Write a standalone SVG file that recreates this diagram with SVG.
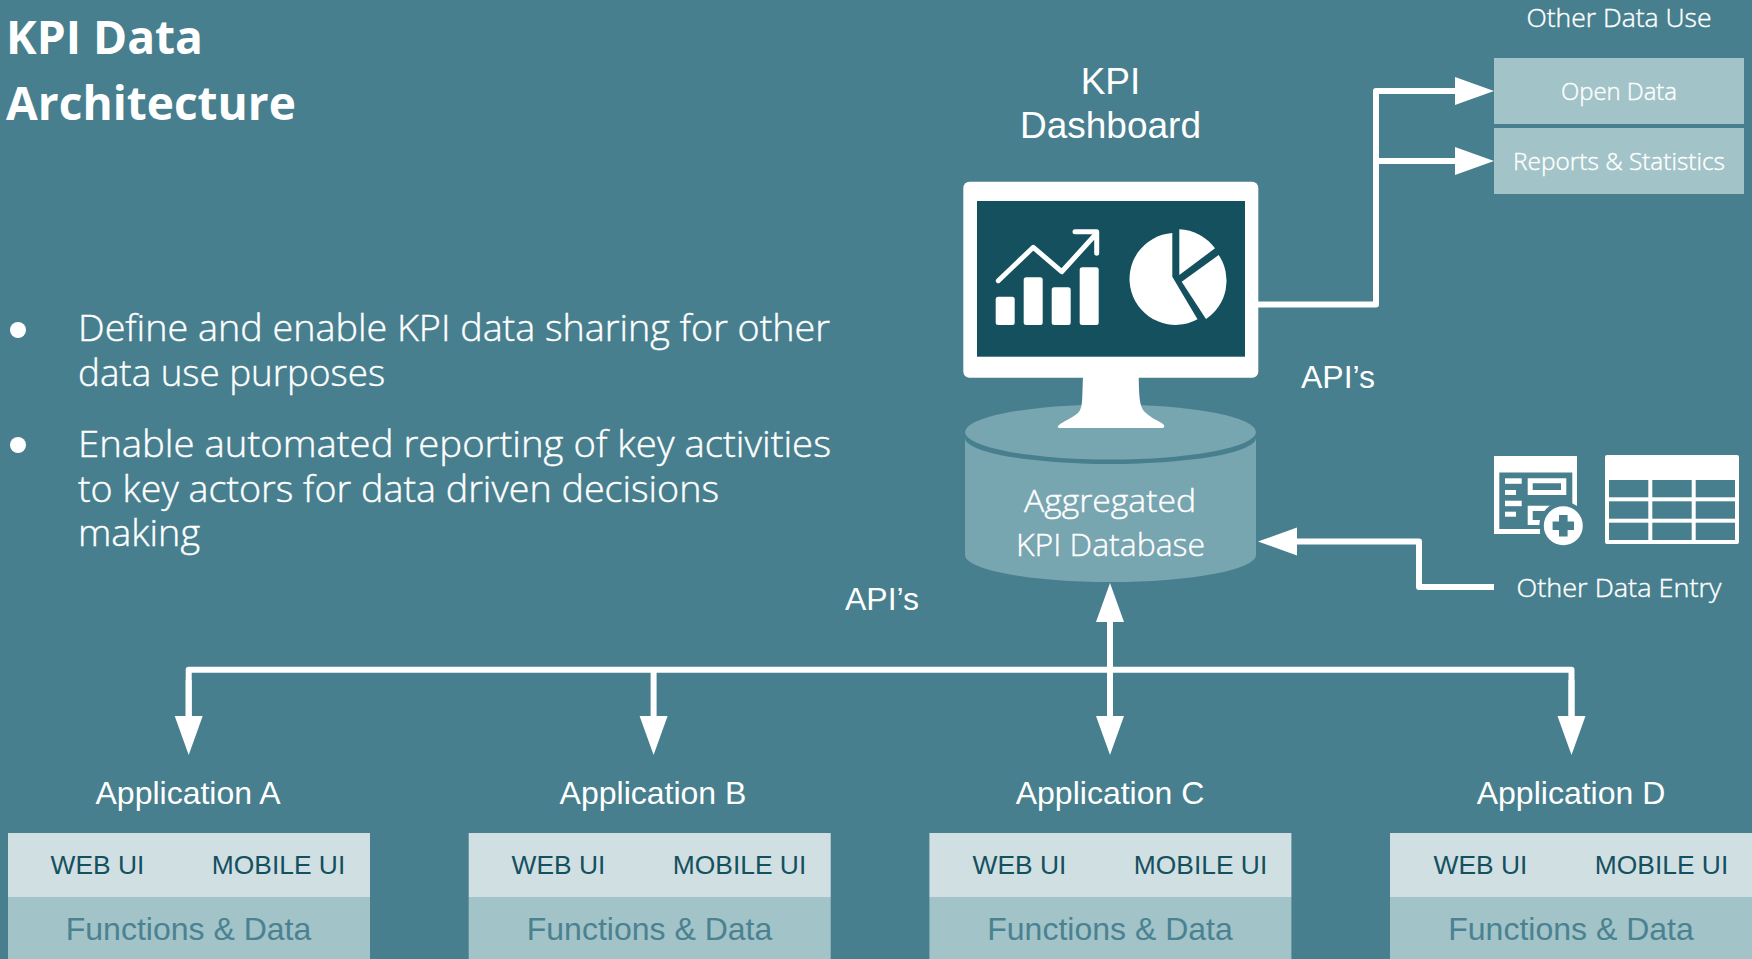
<svg xmlns="http://www.w3.org/2000/svg" width="1752" height="959" viewBox="0 0 1752 959">
<style>
.u{font-family:"Open Sans","Noto Sans","DejaVu Sans",sans-serif;fill:#fff;font-weight:400}
.l{font-weight:300;stroke:#fff;stroke-width:.4px}
.a{font-family:"Liberation Sans",Arial,sans-serif;fill:#fff;text-anchor:middle}
.conn{fill:none;stroke:#fff;stroke-width:6;stroke-linejoin:round;marker-end:url(#arrow)}
.plain{fill:none;stroke:#fff;stroke-width:6;stroke-linejoin:round}
.top{fill:#d0dfe2}.bot{fill:#a2c3c8}
.ui{font-size:26.4px}
.fd{font-size:32px}
.nm{font-size:32px}
.bg{fill:#477f8e}
</style>
<defs>
<marker id="arrow" markerUnits="userSpaceOnUse" markerWidth="40" markerHeight="30" refX="0" refY="15" orient="auto"><path d="M0 1 L39 15 L0 29Z" fill="#fff"/></marker>
<g id="app">
<rect class="top" x="0" y="833" width="362" height="64"/>
<rect class="bot" x="0" y="897" width="362" height="62"/>
</g>
</defs>
<rect width="1752" height="959" class="bg"/>
<g id="title">
<text class="u" style="font-weight:700" font-size="46" x="6" y="54" textLength="197" lengthAdjust="spacingAndGlyphs">KPI Data</text>
<text class="u" style="font-weight:700" font-size="46" x="6" y="120" textLength="290" lengthAdjust="spacingAndGlyphs">Architecture</text>
</g>
<g id="bullets">
<circle cx="18" cy="330" r="8" fill="#fff"/>
<circle cx="18" cy="445" r="8" fill="#fff"/>
<text class="u l" font-size="36" x="78" y="341" textLength="752" lengthAdjust="spacingAndGlyphs">Define and enable KPI data sharing for other</text>
<text class="u l" font-size="36" x="78" y="386" textLength="307" lengthAdjust="spacingAndGlyphs">data use purposes</text>
<text class="u l" font-size="36" x="78" y="457" textLength="753" lengthAdjust="spacingAndGlyphs">Enable automated reporting of key activities</text>
<text class="u l" font-size="36" x="78" y="502" textLength="641" lengthAdjust="spacingAndGlyphs">to key actors for data driven decisions</text>
<text class="u l" font-size="36" x="78" y="546" textLength="122" lengthAdjust="spacingAndGlyphs">making</text>
</g>
<g id="connectors">
<path class="conn" d="M1258 304.5 H1376 V91 H1455"/>
<path class="conn" d="M1376 161 H1455"/>
<path class="conn" d="M1494 587 H1419 V541.5 H1297"/>
<path class="plain" d="M188.7 716 V669.7 H1571.5 V716"/>
<path class="conn" d="M188.7 680 V716"/>
<path class="conn" d="M653.6 669.7 V716"/>
<path class="conn" d="M1110 669.7 V716"/>
<path class="conn" d="M1571.5 680 V716"/>
<path class="conn" d="M1110 669.7 V622"/>
</g>
<g id="database">
<path d="M965 438 A145.5 26 0 0 0 1256 438 V555 A145.5 27 0 0 1 965 555Z" fill="#77a5b0"/>
<ellipse cx="1110.5" cy="432" rx="145.5" ry="27.5" fill="#77a5b0"/>
<text class="u l" font-size="32" x="1024" y="512" textLength="172" lengthAdjust="spacingAndGlyphs">Aggregated</text>
<text class="u l" font-size="32" x="1016" y="556" textLength="189" lengthAdjust="spacingAndGlyphs">KPI Database</text>
</g>
<g id="dashboard">
<text class="a" font-size="37" x="1110.5" y="94">KPI</text>
<text class="a" font-size="37" x="1110.5" y="138">Dashboard</text>
<path fill="#fff" d="M1083 376 H1138.7 C1139 400 1140 408 1146 413 C1152 419 1160 421 1164 425 Q1165 428 1162 428 H1060 Q1056 428 1059 425 C1064 421 1072 418 1078 413 C1083 408 1082 400 1083 376Z"/>
<rect x="963.3" y="181.7" width="295" height="196" rx="6" fill="#fff"/>
<rect x="977" y="201" width="268" height="155.7" fill="#15505f"/>
<g fill="#fff">
<rect x="995.7" y="296.7" width="19" height="28.3" rx="2.5"/>
<rect x="1023.7" y="277.3" width="19" height="47.7" rx="2.5"/>
<rect x="1051.7" y="287.3" width="19" height="37.7" rx="2.5"/>
<rect x="1079.7" y="267.3" width="19" height="57.7" rx="2.5"/>
<path d="M1172.3 233 V276.7 L1197.5 319.3 A46 46 0 1 1 1172.3 233Z"/>
<path d="M1179.3 275 V229.3 A46 46 0 0 1 1215 248.3Z"/>
<path d="M1181.7 281.7 L1218.7 255 A46 46 0 0 1 1206 319Z"/>
</g>
<path d="M998.3 280.7 L1033.3 247.3 L1061.7 271.7 L1096.7 233.3 M1075 231.7 H1096.7 V253.3" fill="none" stroke="#fff" stroke-width="5" stroke-linecap="round" stroke-linejoin="round"/>
<text class="a nm" x="1338" y="388">API’s</text>
</g>
<text id="api-apps" class="a nm" x="882" y="610">API’s</text>
<g id="other-data-use">
<text class="u l" font-size="26" x="1526.5" y="27" textLength="185" lengthAdjust="spacingAndGlyphs">Other Data Use</text>
<rect class="bot" x="1494" y="58" width="250" height="66"/>
<rect class="bot" x="1494" y="128" width="250" height="66"/>
<text class="u l" font-size="24" x="1561" y="100" textLength="116" lengthAdjust="spacingAndGlyphs">Open Data</text>
<text class="u l" font-size="24" x="1513" y="170" textLength="212" lengthAdjust="spacingAndGlyphs">Reports &amp; Statistics</text>
</g>
<g id="other-data-entry">
<rect x="1494" y="456" width="83" height="78" fill="#fff"/>
<rect x="1499.3" y="472.5" width="73" height="56.5" class="bg"/>
<g fill="#fff">
<rect x="1505" y="478.3" width="16.7" height="5.5"/>
<rect x="1505" y="490" width="11" height="5"/>
<rect x="1505" y="500.7" width="16.7" height="5.5"/>
<rect x="1505" y="511.7" width="11" height="5"/>
<path fill-rule="evenodd" d="M1527.7 478.3 H1566.3 V495 H1527.7Z M1532.7 483.3 V490 H1561 V483.3Z"/>
<path fill-rule="evenodd" d="M1527.7 505.7 H1566 V525 H1527.7Z M1532.7 511 V520 H1560 V511Z"/>
</g>
<circle cx="1563.3" cy="525.7" r="24" class="bg"/>
<rect x="1540" y="529" width="38" height="8" class="bg"/>
<rect x="1494" y="529" width="46" height="5" fill="#fff"/>
<circle cx="1563.3" cy="525.7" r="19.5" fill="#fff"/>
<path class="bg" d="M1559 515 H1567.6 V521.4 H1574 V530 H1567.6 V536.4 H1559 V530 H1552.6 V521.4 H1559Z"/>
<rect x="1605" y="455" width="134" height="89" rx="2" fill="#fff"/>
<g class="bg">
<rect x="1609" y="480" width="39.3" height="17.3"/><rect x="1652.3" y="480" width="39.4" height="17.3"/><rect x="1695.7" y="480" width="39.3" height="17.3"/>
<rect x="1609" y="501.3" width="39.3" height="17.4"/><rect x="1652.3" y="501.3" width="39.4" height="17.4"/><rect x="1695.7" y="501.3" width="39.3" height="17.4"/>
<rect x="1609" y="522.7" width="39.3" height="17.3"/><rect x="1652.3" y="522.7" width="39.4" height="17.3"/><rect x="1695.7" y="522.7" width="39.3" height="17.3"/>
</g>
<text class="u l" font-size="26" x="1516.5" y="596.5" textLength="205" lengthAdjust="spacingAndGlyphs">Other Data Entry</text>
</g>
<g id="app-a">
<use href="#app" x="8"/>
<text class="a nm" x="188" y="804">Application A</text>
<text class="a ui" x="97.5" y="874" style="fill:#15505f">WEB UI</text>
<text class="a ui" x="278.5" y="874" style="fill:#15505f">MOBILE UI</text>
<text class="a fd" x="188.5" y="940" style="fill:#4a8291">Functions &amp; Data</text>
</g>
<g id="app-b">
<use href="#app" x="468.7"/>
<text class="a nm" x="653" y="804">Application B</text>
<text class="a ui" x="558.5" y="874" style="fill:#15505f">WEB UI</text>
<text class="a ui" x="739.5" y="874" style="fill:#15505f">MOBILE UI</text>
<text class="a fd" x="649.5" y="940" style="fill:#4a8291">Functions &amp; Data</text>
</g>
<g id="app-c">
<use href="#app" x="929.4"/>
<text class="a nm" x="1110" y="804">Application C</text>
<text class="a ui" x="1019.5" y="874" style="fill:#15505f">WEB UI</text>
<text class="a ui" x="1200.5" y="874" style="fill:#15505f">MOBILE UI</text>
<text class="a fd" x="1110" y="940" style="fill:#4a8291">Functions &amp; Data</text>
</g>
<g id="app-d">
<use href="#app" x="1390"/>
<text class="a nm" x="1571" y="804">Application D</text>
<text class="a ui" x="1480.5" y="874" style="fill:#15505f">WEB UI</text>
<text class="a ui" x="1661.5" y="874" style="fill:#15505f">MOBILE UI</text>
<text class="a fd" x="1571" y="940" style="fill:#4a8291">Functions &amp; Data</text>
</g>
</svg>
